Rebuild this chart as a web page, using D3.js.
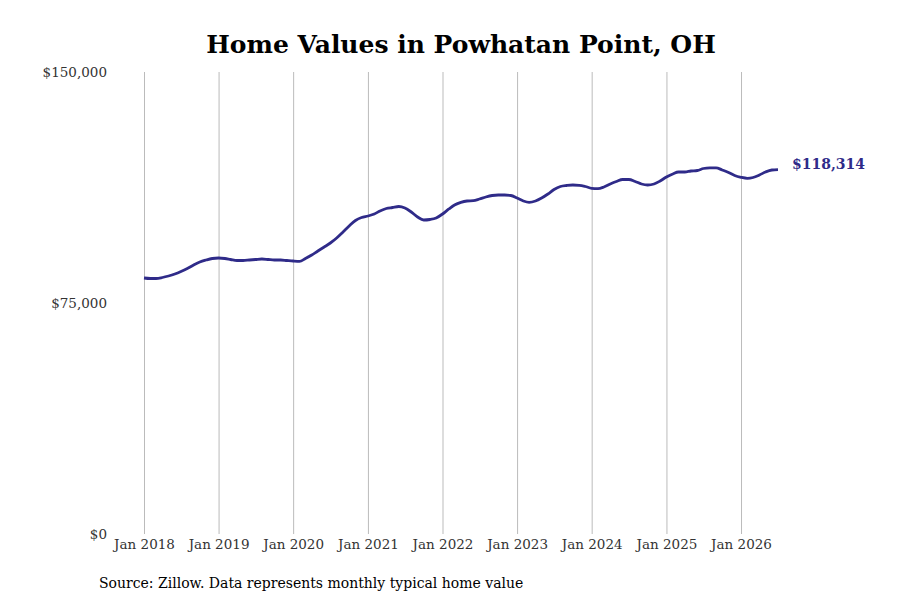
<!DOCTYPE html>
<html>
<head>
<meta charset="utf-8">
<script src="https://cdn.jsdelivr.net/npm/d3@7"></script>
<style>
    body { margin: 0; background: #fff; }
    text { font-family: "DejaVu Serif", serif; }
</style>
</head>
<body>
<div class="chart"></div>
<script>
// monthly typical home value, Jan 2018 .. Jul 2026
const startMonth = "2018-01";
const homeValues = [
    83118, 82956, 82956, 83280, 83767, 84417, 85229, 86203, 87339, 88313, 88962, 89449,
    89612, 89449, 89125, 88800, 88800, 88962, 89125, 89287, 89125, 88962, 88962, 88800,
    88638, 88540, 89449, 90586, 91884, 93183, 94482, 96105, 98053, 100001, 101787, 102761,
    103248, 103898, 104872, 105683, 106008, 106333, 105846, 104547, 102924, 101950, 102112, 102599,
    103898, 105521, 106820, 107696, 108118, 108216, 108768, 109417, 109904, 110067, 110067, 109904,
    109092, 108118, 107696, 108118, 109092, 110391, 111852, 112826, 113151, 113313, 113216, 112826,
    112242, 112112, 112664, 113638, 114450, 115099, 115099, 114450, 113638, 113313, 113638, 114612,
    115911, 116885, 117534, 117534, 117859, 118021, 118670, 118898, 118898, 118184, 117372, 116398,
    115813, 115489, 115748, 116560, 117534, 118184, 118314
];
const yTicks = [0, 75000, 150000];
const xTickYears = [2018, 2019, 2020, 2021, 2022, 2023, 2024, 2025, 2026];

const chartTitle = "Home Values in Powhatan Point, OH";
const sourceNote = "Source: Zillow. Data represents monthly typical home value";

const width = 900, height = 600;
const margin = { top: 72, right: 122, bottom: 66, left: 144 };

const parseMonth = d3.timeParse("%Y-%m");
const t0 = parseMonth(startMonth);
const data = homeValues.map((v, i) => ({ date: d3.timeMonth.offset(t0, i), value: v }));

const svg = d3.select(".chart")
    .append("svg")
    .attr("width", width)
    .attr("height", height);

const x = d3.scaleTime()
    .domain([new Date(2018, 0, 1), new Date(2026, 6, 1)])
    .range([margin.left, 778]);

const y = d3.scaleLinear()
    .domain([0, 150000])
    .range([height - margin.bottom, margin.top]);

// vertical grid lines at each January
const xAxis = d3.axisBottom(x)
    .tickValues(xTickYears.map(yr => new Date(yr, 0, 1)))
    .tickFormat(d3.timeFormat("Jan %Y"))
    .tickSize(-(height - margin.bottom - margin.top))
    .tickPadding(5);

const gx = svg.append("g")
    .attr("transform", "translate(0," + (height - margin.bottom) + ")")
    .call(xAxis);
gx.select(".domain").remove();
gx.selectAll(".tick line").attr("stroke", "#bbbbbb").attr("stroke-width", 1);
gx.selectAll(".tick text")
    .attr("fill", "#333")
    .style("font-size", "13.5px")
    .style("font-family", "DejaVu Serif, serif");

const yAxis = d3.axisLeft(y)
    .tickValues(yTicks)
    .tickFormat(d => "$" + d3.format(",")(d))
    .tickSize(0)
    .tickPadding(37);

const gy = svg.append("g")
    .attr("transform", "translate(" + margin.left + ",0)")
    .call(yAxis);
gy.select(".domain").remove();
gy.selectAll(".tick text")
    .attr("fill", "#333")
    .style("font-size", "13.5px")
    .style("font-family", "DejaVu Serif, serif");

const line = d3.line()
    .x(d => x(d.date))
    .y(d => y(d.value))
    .curve(d3.curveMonotoneX);

svg.append("path")
    .datum(data)
    .attr("fill", "none")
    .attr("stroke", "#2f2b89")
    .attr("stroke-width", 2.8)
    .attr("stroke-linejoin", "round")
    .attr("d", line);

const last = data[data.length - 1];
svg.append("text")
    .attr("x", x(last.date) + 14)
    .attr("y", y(last.value) - 5)
    .attr("dy", "0.35em")
    .attr("fill", "#2f2b89")
    .style("font-size", "14px")
    .style("font-weight", "bold")
    .text("$" + d3.format(",")(last.value));

svg.append("text")
    .attr("x", 461)
    .attr("y", 53)
    .attr("text-anchor", "middle")
    .attr("fill", "#000")
    .style("font-size", "25px")
    .style("font-weight", "bold")
    .text(chartTitle);

svg.append("text")
    .attr("x", 99)
    .attr("y", 588)
    .attr("fill", "#000")
    .style("font-size", "14px")
    .text(sourceNote);
</script>
</body>
</html>
